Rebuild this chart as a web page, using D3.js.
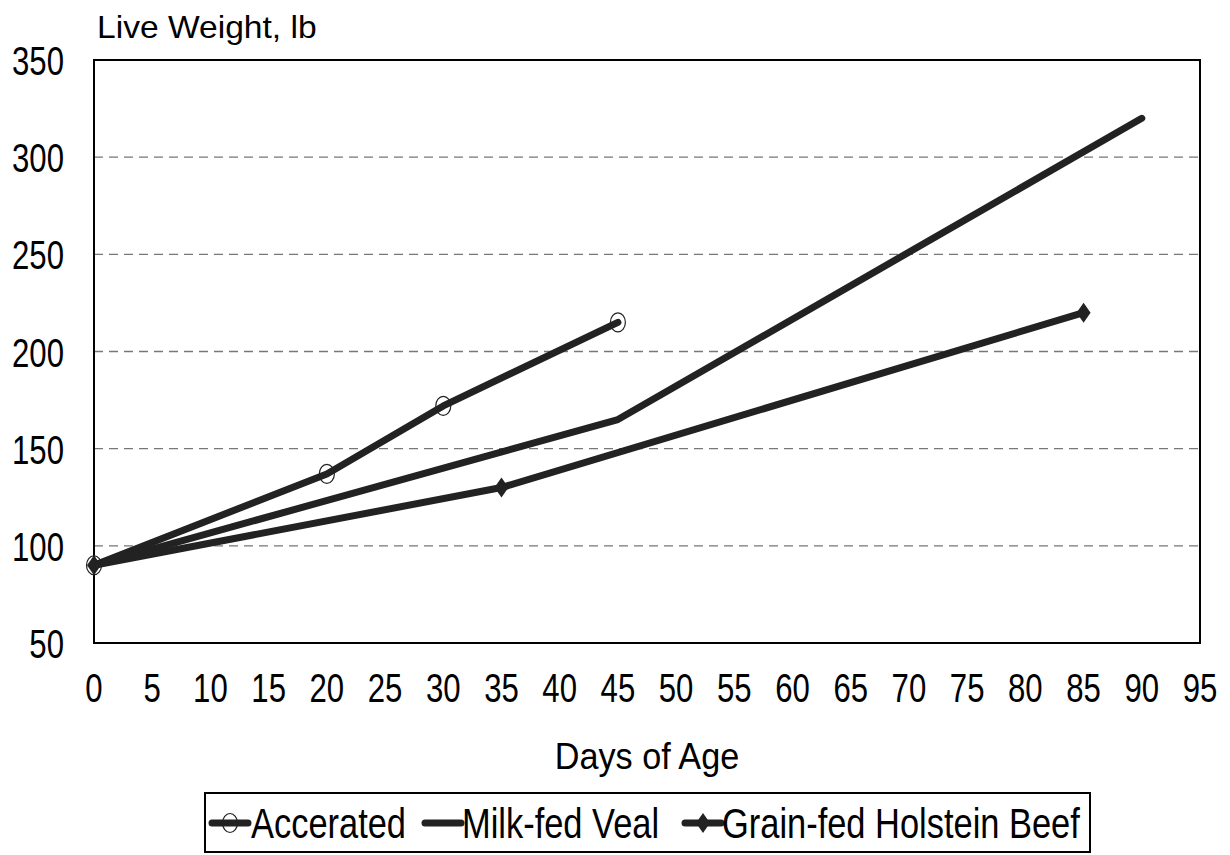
<!DOCTYPE html>
<html><head><meta charset="utf-8">
<script src="https://cdn.jsdelivr.net/npm/d3@7"></script>
<style>
body{margin:0;background:#fff;}
text{font-family:"Liberation Sans",Arial,sans-serif;fill:#000;}
</style></head>
<body><svg id="c" width="1230" height="855"></svg>
<script>
const xTicks = [0,5,10,15,20,25,30,35,40,45,50,55,60,65,70,75,80,85,90,95];
const yTicks = [50,100,150,200,250,300,350];
const seriesNames = ["Accerated","Milk-fed Veal","Grain-fed Holstein Beef"];
const accDays = [0,20,30,45];
const accWeight = [90,137,172,215];
const vealDays = [0,45,90];
const vealWeight = [90,165,320];
const grainDays = [0,35,85];
const grainWeight = [90,130,220];

const svg = d3.select("#c");
const L=94,R=1200,T=60,B=643;
const x = d3.scaleLinear().domain([0,95]).range([L,R]);
const y = d3.scaleLinear().domain([50,350]).range([B,T]);
const col = "#222";

function txt(g,px,py,str,size,sx,anchor){
  return g.append("text").attr("transform",`translate(${px},${py}) scale(${sx},1)`)
    .attr("text-anchor",anchor||"start").style("font-size",size+"px").text(str);
}

// grid
svg.append("g").selectAll("line").data(yTicks.filter(v=>v>50&&v<350)).join("line")
  .attr("x1",L).attr("x2",R).attr("y1",d=>y(d)).attr("y2",d=>y(d))
  .attr("stroke","#777").attr("stroke-width",1.3).attr("stroke-dasharray","9,6");

// frame
svg.append("rect").attr("x",L).attr("y",T).attr("width",R-L).attr("height",B-T)
  .attr("fill","none").attr("stroke","#000").attr("stroke-width",2);

// axis labels
const gy = svg.append("g");
yTicks.forEach(v=>txt(gy,64,y(v)+15,String(v),41,0.76,"end"));
const gx = svg.append("g");
xTicks.forEach(v=>txt(gx,x(v),702,String(v),41,0.76,"middle"));

txt(svg,97,38,"Live Weight, lb",32,1.05,"start");
txt(svg,647,769,"Days of Age",36,0.95,"middle");

const line = d3.line().x(d=>x(d[0])).y(d=>y(d[1]));
const series = [
  {name:seriesNames[0], pts:accDays.map((d,i)=>[d,accWeight[i]]), m:"circle"},
  {name:seriesNames[1], pts:vealDays.map((d,i)=>[d,vealWeight[i]]), m:"none"},
  {name:seriesNames[2], pts:grainDays.map((d,i)=>[d,grainWeight[i]]), m:"diamond"}
];
series.forEach(s=>{
  svg.append("path").attr("d",line(s.pts)).attr("fill","none").attr("stroke",col)
    .attr("stroke-width",7).attr("stroke-linejoin","round").attr("stroke-linecap","round");
});
function marker(g,m,cx,cy){
  if(m==="circle"){
    g.append("ellipse").attr("cx",cx).attr("cy",cy).attr("rx",7.5).attr("ry",9.5)
      .attr("fill","none").attr("stroke","#222").attr("stroke-width",1.2);
  } else if(m==="diamond"){
    g.append("path").attr("d",`M${cx},${cy-10}L${cx+7},${cy}L${cx},${cy+10}L${cx-7},${cy}Z`).attr("fill",col);
  }
}
series.forEach(s=>{ s.pts.forEach(p=>marker(svg,s.m,x(p[0]),y(p[1]))); });

// legend
const lg = svg.append("g");
lg.append("rect").attr("x",205).attr("y",793).attr("width",885).attr("height",59)
  .attr("fill","#fff").attr("stroke","#000").attr("stroke-width",2);
const legX = [212, 425, 685];
const legT = [251, 462, 722];
series.forEach((s,i)=>{
  const lx = legX[i], ly = 823;
  lg.append("line").attr("x1",lx).attr("x2",lx+36).attr("y1",ly).attr("y2",ly)
    .attr("stroke",col).attr("stroke-width",7).attr("stroke-linecap","round");
  marker(lg,s.m,lx+18,ly);
  txt(lg,legT[i],838,s.name,42,0.82,"start");
});
</script></body></html>
